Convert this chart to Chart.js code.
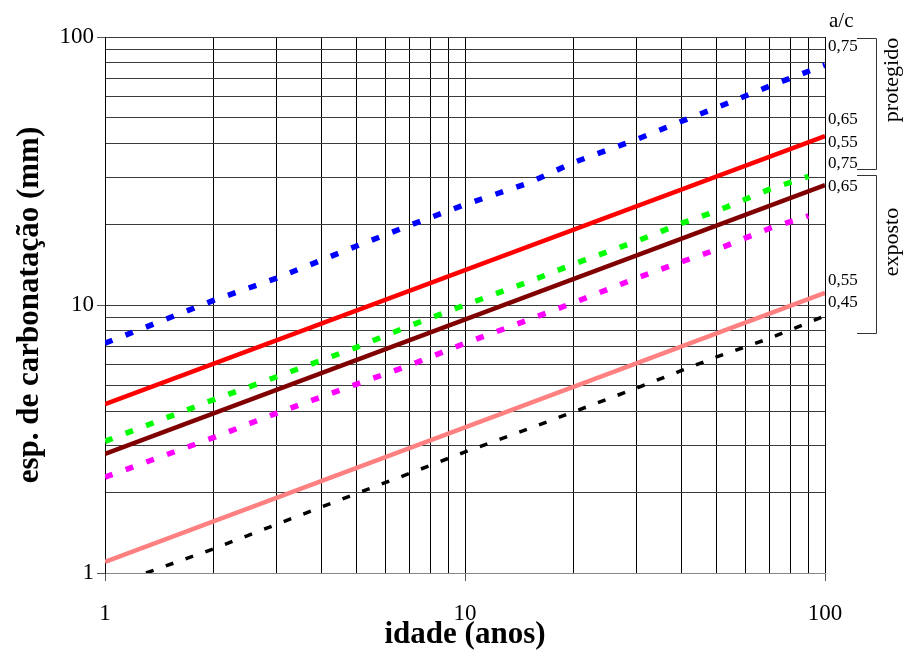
<!DOCTYPE html>
<html>
<head>
<meta charset="utf-8">
<script src="https://cdn.jsdelivr.net/npm/chart.js@4/dist/chart.umd.min.js"></script>
<style>
  html, body { margin: 0; padding: 0; background: #fff; }
  #wrap { width: 904px; height: 655px; }
</style>
</head>
<body>
<div id="wrap"><canvas id="chart"></canvas></div>
<script>
// grid lines and labelled ticks (log-log, 1..100 on both axes)
const gridValues = [1, 2, 3, 4, 5, 6, 7, 8, 9, 10, 20, 30, 40, 50, 60, 70, 80, 90, 100];
const tickLabels = [1, 10, 100];

// dotted series
const ages = [1, 2, 3, 5, 7, 10, 15, 20, 30, 40, 50, 70, 90, 100];
const blueSeries = [7.2, 10.4, 12.6, 16.6, 19.8, 23.7, 28.5, 34.0, 41.5, 48.5, 54.5, 65.5, 74.5, 78.5];
const greenSeries = [3.1, 4.43, 5.4, 6.95, 8.35, 10.0, 12.2, 14.2, 17.3, 20.2, 22.4, 27.0, 30.2, null];
const magentaSeries = [2.28, 3.2, 3.95, 5.07, 5.95, 7.2, 8.8, 10.2, 12.6, 14.5, 16.1, 19.3, 21.5, null];

const blackAges = [1.3, 2, 3, 5, 7, 10, 15, 20, 30, 40, 50, 70, 100];
const blackSeries = [1.0, 1.23, 1.52, 1.98, 2.35, 2.83, 3.45, 3.99, 4.9, 5.7, 6.4, 7.5, 9.1];

// straight solid lines (end points)
const lineAges = [1, 100];
const redSeries = [4.27, 42.7];
const darkRedSeries = [2.78, 28.0];
const salmonSeries = [1.1, 11.1];

// right-hand a/c labels
const acTitle = 'a/c';
const acLabels = ['0,75', '0,65', '0,55', '0,75', '0,65', '0,55', '0,45'];
const groupLabels = ['protegido', 'exposto'];

function toPoints(xs, ys) {
    const pts = [];
    xs.forEach((x, i) => {
        if (ys[i] !== null) pts.push({ x: x, y: ys[i] });
    });
    return pts;
}

const SERIF = '"Liberation Serif", "Times New Roman", serif';

// labels and brackets on the right of the plot
const rightNotes = {
    id: 'rightNotes',
    afterDraw(chart) {
        const ctx = chart.ctx;
        const area = chart.chartArea;
        const x0 = area.right + 3;
        const top = area.top;
        ctx.save();
        ctx.fillStyle = '#000';
        ctx.textBaseline = 'middle';
        ctx.textAlign = 'left';
        ctx.font = '21px ' + SERIF;
        ctx.fillText(acTitle, x0 + 1, top - 16);

        ctx.font = '17px ' + SERIF;
        const offsets = [10, 83, 106, 127, 150, 244, 266];
        acLabels.forEach((t, i) => ctx.fillText(t, x0, top + offsets[i]));

        // brackets
        ctx.strokeStyle = '#333';
        ctx.lineWidth = 1;
        const bx = area.right + 51;
        const arm = area.right + 32;
        const drawBracket = (y1, y2) => {
            ctx.beginPath();
            ctx.moveTo(arm, y1 + 0.5);
            ctx.lineTo(bx + 0.5, y1 + 0.5);
            ctx.lineTo(bx + 0.5, y2 + 0.5);
            ctx.lineTo(arm, y2 + 0.5);
            ctx.stroke();
        };
        drawBracket(top + 1, top + 132);
        drawBracket(top + 138, top + 296);

        ctx.font = '22px ' + SERIF;
        ctx.textAlign = 'center';
        [[groupLabels[0], top + 43], [groupLabels[1], top + 205]].forEach(([t, y]) => {
            ctx.save();
            ctx.translate(area.right + 67, y);
            ctx.rotate(-Math.PI / 2);
            ctx.fillText(t, 0, 0);
            ctx.restore();
        });
        ctx.restore();
    }
};

function logAxis(titleText, horizontal) {
    return {
        type: 'logarithmic',
        min: 1,
        max: 100,
        afterBuildTicks: s => { s.ticks = gridValues.map(v => ({ value: v })); },
        afterFit: s => {
            if (horizontal) s.height = 82; else s.width = 105;
        },
        grid: {
            color: horizontal ? '#000' : '#3c3c3c',
            lineWidth: 1,
            drawTicks: true,
            tickLength: 8,
            tickColor: c => (c.tick && tickLabels.includes(c.tick.value)) ? '#555' : 'rgba(0,0,0,0)'
        },
        border: { display: true, color: horizontal ? '#888' : '#000', width: 1 },
        ticks: {
            autoSkip: false,
            maxRotation: 0,
            color: '#000',
            padding: horizontal ? 19 : 3,
            font: { family: SERIF, size: 23 },
            callback: v => tickLabels.includes(v) ? String(v) : ''
        },
        title: {
            display: true,
            text: titleText,
            color: '#000',
            font: { family: SERIF, size: 31, weight: 'bold' },
            padding: horizontal ? { top: 0, bottom: 1 } : { top: 11, bottom: 0 }
        }
    };
}

new Chart(document.getElementById('chart'), {
    type: 'line',
    data: {
        datasets: [
            { data: toPoints(ages, blueSeries), borderColor: '#0000ff', borderWidth: 5.5, borderDash: [8, 14] },
            { data: toPoints(ages, greenSeries), borderColor: '#00ff00', borderWidth: 5.5, borderDash: [8, 14] },
            { data: toPoints(ages, magentaSeries), borderColor: '#ff00ff', borderWidth: 5.5, borderDash: [8, 14] },
            { data: toPoints(blackAges, blackSeries), borderColor: '#000000', borderWidth: 3.5, borderDash: [8, 13] },
            { data: toPoints(lineAges, redSeries), borderColor: '#ff0000', borderWidth: 4.5 },
            { data: toPoints(lineAges, darkRedSeries), borderColor: '#800000', borderWidth: 4.5 },
            { data: toPoints(lineAges, salmonSeries), borderColor: '#ff8080', borderWidth: 4.5 }
        ]
    },
    options: {
        responsive: true,
        maintainAspectRatio: false,
        animation: false,
        layout: { padding: { top: 37, right: 79, left: 0, bottom: 0 } },
        elements: {
            point: { radius: 0 },
            line: { tension: 0, borderCapStyle: 'butt', fill: false }
        },
        scales: {
            x: logAxis('idade (anos)', true),
            y: logAxis('esp. de carbonatação (mm)', false)
        },
        plugins: {
            legend: { display: false },
            tooltip: { enabled: false }
        }
    },
    plugins: [rightNotes]
});
</script>
</body>
</html>
